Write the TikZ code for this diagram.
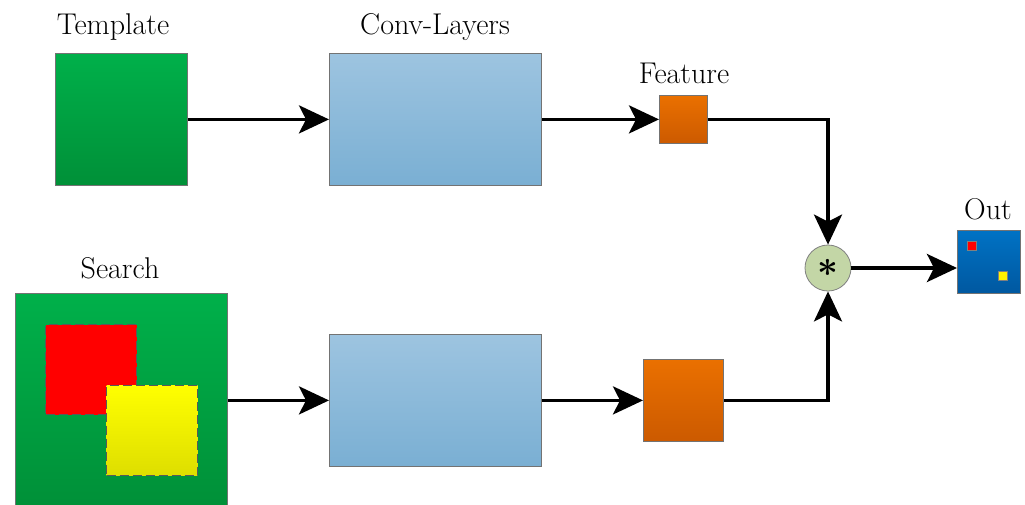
\documentclass[tikz,border=0pt]{standalone}
\usetikzlibrary{arrows.meta,shadings}
\begin{document}
\begin{tikzpicture}[x=1pt,y=-1pt,
  box/.style={draw=black!55,line width=0.8pt,rectangle,inner sep=0pt,anchor=north west},
  gbox/.style={box,top color=gtop,bottom color=gbot},
  convbox/.style={box,top color=ctop,bottom color=cbot},
  orangebox/.style={box,top color=otop,bottom color=obot},
  dashbox/.style={box,draw=black!65,dash pattern=on 9pt off 4pt,line width=1pt},
  lbl/.style={font=\fontsize{30}{34}\selectfont,inner sep=0pt},
  flow/.style={line width=3.6pt,-{Stealth[length=30pt,width=28pt,inset=7pt]}}
]
\definecolor{gtop}{HTML}{00B04A}
\definecolor{gbot}{HTML}{009038}
\definecolor{ctop}{HTML}{9DC4E0}
\definecolor{cbot}{HTML}{7AAFD3}
\definecolor{otop}{HTML}{EA7000}
\definecolor{obot}{HTML}{CC5A00}
\definecolor{btop}{HTML}{0072C4}
\definecolor{bbot}{HTML}{0058A0}
\definecolor{ytop}{HTML}{FFFF00}
\definecolor{ybot}{HTML}{DEDE00}
\definecolor{sage}{HTML}{C3D6A6}
\useasboundingbox (0,0) rectangle (1025,504);

% upper branch
\node[gbox,minimum width=132pt,minimum height=132pt] (tpl) at (55,53) {};
\node[lbl] (tpllbl) at (113,27) {Template};
\node[convbox,minimum width=212pt,minimum height=132pt] (conv1) at (329,53) {};
\node[lbl] (convlbl) at (435,27) {Conv-Layers};
\node[orangebox,minimum width=48pt,minimum height=48pt] (feat1) at (659,95) {};
\node[lbl] (featlbl) at (684,73) {Feature};

% lower branch
\node[gbox,minimum width=212pt,minimum height=215pt] (srch) at (15,293) {};
\node[lbl] (srchlbl) at (120,268) {Search};
\node[dashbox,fill=red,minimum width=91pt,minimum height=90pt] (tgtred) at (45,324) {};
\node[dashbox,top color=ytop,bottom color=ybot,minimum width=91pt,minimum height=90pt] (tgtyel) at (106,385) {};
\node[convbox,minimum width=212pt,minimum height=132pt] (conv2) at (329,334) {};
\node[orangebox,minimum width=80pt,minimum height=82pt] (feat2) at (643,359) {};

% correlation and output
\node[circle,draw=black!50,line width=0.8pt,fill=sage,minimum size=46pt,inner sep=0pt] (corr) at (828,268)
  {\raisebox{-9pt}{\scalebox{2.1}{\LARGE\boldmath$\ast$}}};
\node[box,top color=btop,bottom color=bbot,minimum width=63pt,minimum height=63pt] (out) at (957,230) {};
\node[lbl] (outlbl) at (988,209) {Out};
\node[box,draw=black!50,fill=red,minimum size=9pt,line width=0.5pt,anchor=center] (outred) at (972,246) {};
\node[box,draw=black!50,fill=yellow,minimum size=9pt,line width=0.5pt,anchor=center] (outyel) at (1003,276) {};

% connectors
\draw[flow] (tpl.east) -- (conv1.west);
\draw[flow] (conv1.east) -- (conv1.east -| feat1.west);
\draw[flow] (srch.east |- conv2.west) -- (conv2.west);
\draw[flow] (conv2.east) -- (conv2.east -| feat2.west);
\draw[flow] (feat1.east) -| (corr.north);
\draw[flow] (feat2.east) -| (corr.south);
\draw[flow] (corr.east) -- (corr.east -| out.west);
\end{tikzpicture}
\end{document}
